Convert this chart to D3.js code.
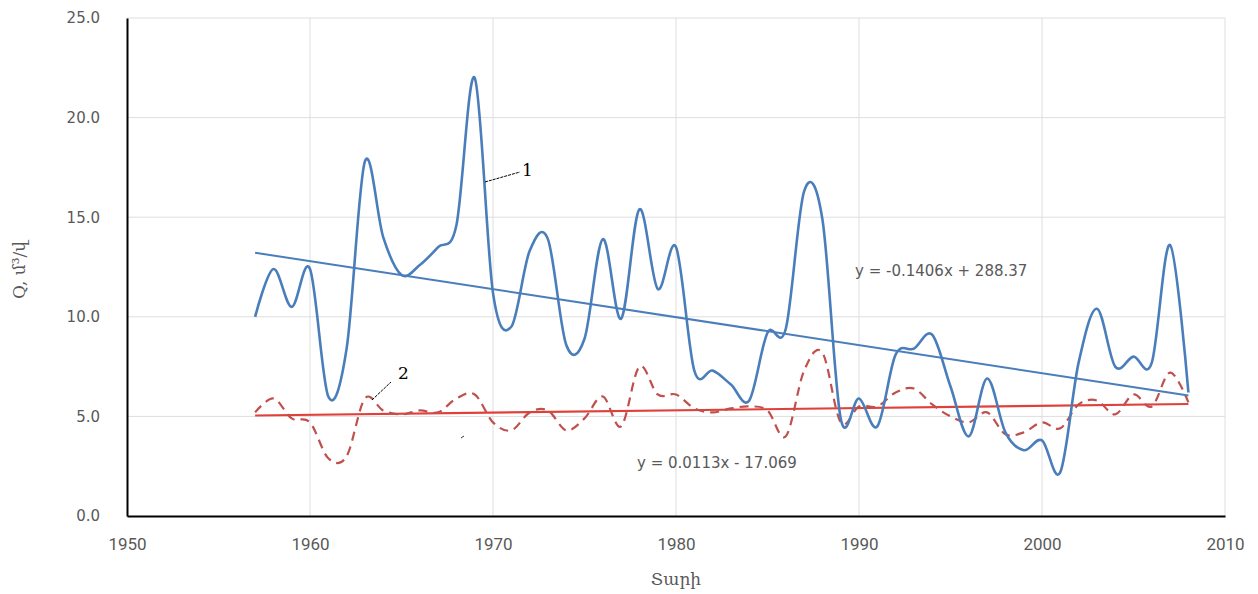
<!DOCTYPE html>
<html>
<head>
<meta charset="utf-8">
<script src="https://cdn.jsdelivr.net/npm/d3@7"></script>
<style>
  body { margin: 0; background: #fff; }
  .tick-y { font-family: "DejaVu Sans", sans-serif; font-size: 15px; fill: #595959; }
  .tick-x { font-family: "Liberation Sans Narrow", "Roboto", sans-serif; font-size: 17px; fill: #595959; }
  .eq { font-family: "DejaVu Sans", sans-serif; font-size: 15px; fill: #595959; }
  .axis-label { font-family: "DejaVu Serif", serif; font-size: 17px; fill: #595959; }
  .note { font-family: "DejaVu Serif", serif; font-size: 17px; fill: #000; }
</style>
</head>
<body>
<div id="svg"></div>
<script>
let years = d3.range(1957, 2009);

// series 1 (blue, solid)
let flow1 = [10.0, 12.4, 10.5, 12.4, 6.0, 8.4, 17.8, 14.0, 12.1, 12.6,
             13.5, 14.6, 22.0, 11.2, 9.5, 13.3, 13.9, 8.6, 8.9, 13.9,
             9.9, 15.4, 11.4, 13.5, 7.3, 7.3, 6.6, 5.8, 9.2, 9.4,
             16.3, 14.9, 4.9, 5.9, 4.5, 8.1, 8.4, 9.1, 6.5, 4.0,
             6.9, 4.2, 3.3, 3.8, 2.2, 7.7, 10.4, 7.5, 8.0, 7.7,
             13.6, 6.2];

// series 2 (red, dashed)
let flow2 = [5.2, 5.9, 4.9, 4.7, 2.9, 3.0, 5.9, 5.3, 5.1, 5.3,
             5.2, 5.9, 6.1, 4.7, 4.3, 5.2, 5.3, 4.3, 4.9, 6.0,
             4.5, 7.5, 6.1, 6.1, 5.4, 5.2, 5.4, 5.5, 5.3, 4.0,
             7.3, 8.2, 4.7, 5.5, 5.5, 6.2, 6.4, 5.6, 5.0, 4.7,
             5.2, 4.1, 4.2, 4.7, 4.4, 5.6, 5.8, 5.1, 6.1, 5.5,
             7.2, 5.7];

let trend1 = { a: -0.1406, b: 288.37, label: 'y = -0.1406x + 288.37' };
let trend2 = { a: 0.0113, b: -17.069, label: 'y = 0.0113x - 17.069' };

let xTicks = [1950, 1960, 1970, 1980, 1990, 2000, 2010];
let yTicks = [0, 5, 10, 15, 20, 25];

function makeGraph() {
    let w = 1258, h = 594;
    let svg = d3.select('#svg')
        .append('svg')
        .attr('width', w)
        .attr('height', h);

    let xScale = d3.scaleLinear().domain([1950, 2010]).range([127, 1225]);
    let yScale = d3.scaleLinear().domain([0, 25]).range([516, 18]);

    // grid
    svg.append('g')
        .selectAll('line')
        .data(yTicks.slice(1))
        .enter()
        .append('line')
        .attr('x1', 127).attr('x2', 1225)
        .attr('y1', d => yScale(d)).attr('y2', d => yScale(d))
        .style('stroke', '#dedede');

    svg.append('g')
        .selectAll('line')
        .data(xTicks.slice(1))
        .enter()
        .append('line')
        .attr('x1', d => xScale(d)).attr('x2', d => xScale(d))
        .attr('y1', 18).attr('y2', 516)
        .style('stroke', '#dedede');

    // axes
    let yAxis = d3.axisLeft(yScale).tickValues(yTicks).tickFormat(d3.format('.1f')).tickSize(0).tickPadding(27);
    let yAxisGroup = svg.append('g')
        .attr('transform', 'translate(127, 0)')
        .call(yAxis);
    yAxisGroup.select('.domain').style('stroke', '#000').style('stroke-width', 2);
    yAxisGroup.selectAll('text').attr('class', 'tick-y').attr('font-size', null).attr('font-family', null);

    let xAxis = d3.axisBottom(xScale).tickValues(xTicks).tickFormat(d3.format('d')).tickSize(0).tickPadding(22);
    let xAxisGroup = svg.append('g')
        .attr('transform', 'translate(0, 516)')
        .call(xAxis);
    xAxisGroup.select('.domain').style('stroke', '#000').style('stroke-width', 2);
    xAxisGroup.selectAll('text').attr('class', 'tick-x').attr('font-size', null).attr('font-family', null);
    svg.selectAll('.tick text').style('fill', '#595959');

    let line = d3.line()
        .x((d, i) => xScale(years[i]))
        .y(d => yScale(d))
        .curve(d3.curveCardinal.tension(0));

    let trendLine = t => [[years[0], t.a * years[0] + t.b], [years[years.length - 1], t.a * years[years.length - 1] + t.b]];

    // trend lines
    svg.append('line')
        .datum(trendLine(trend2))
        .attr('x1', d => xScale(d[0][0])).attr('y1', d => yScale(d[0][1]))
        .attr('x2', d => xScale(d[1][0])).attr('y2', d => yScale(d[1][1]))
        .style('stroke', '#e0403a').attr('stroke-width', 2.2);

    svg.append('path')
        .datum(flow2)
        .attr('d', line)
        .style('fill', 'none')
        .style('stroke', '#c0504d')
        .attr('stroke-width', 2.2)
        .attr('stroke-dasharray', '9,6');

    svg.append('line')
        .datum(trendLine(trend1))
        .attr('x1', d => xScale(d[0][0])).attr('y1', d => yScale(d[0][1]))
        .attr('x2', d => xScale(d[1][0])).attr('y2', d => yScale(d[1][1]))
        .style('stroke', '#4a7ebb').attr('stroke-width', 2);

    svg.append('path')
        .datum(flow1)
        .attr('d', line)
        .style('fill', 'none')
        .style('stroke', '#4a7ebb')
        .attr('stroke-width', 2.6);

    // equations
    svg.append('text').classed('eq', true)
        .attr('x', 855).attr('y', 276)
        .text(trend1.label);
    svg.append('text').classed('eq', true)
        .attr('x', 637).attr('y', 468)
        .text(trend2.label);

    // curve labels
    svg.append('line')
        .attr('x1', 485).attr('y1', 182).attr('x2', 520).attr('y2', 172)
        .style('stroke', '#000').attr('stroke-width', 1).attr('stroke-dasharray', '3,1');
    svg.append('text').classed('note', true)
        .attr('x', 522).attr('y', 176).text('1');

    svg.append('line')
        .attr('x1', 372).attr('y1', 400).attr('x2', 391).attr('y2', 382)
        .style('stroke', '#000').attr('stroke-width', 1).attr('stroke-dasharray', '3,1');
    svg.append('text').classed('note', true)
        .attr('x', 398).attr('y', 379).text('2');

    svg.append('line')
        .attr('x1', 461).attr('y1', 438).attr('x2', 464).attr('y2', 436)
        .style('stroke', '#333').attr('stroke-width', 1);

    // axis titles
    svg.append('text').classed('axis-label', true)
        .attr('transform', 'rotate(-90)')
        .attr('x', -270).attr('y', 25)
        .attr('text-anchor', 'middle')
        .text('Q, մ³/վ');

    svg.append('text').classed('axis-label', true)
        .attr('x', 676).attr('y', 585)
        .attr('text-anchor', 'middle')
        .text('Տարի');
}

window.onload = () => {
    makeGraph();
}
</script>
</body>
</html>
